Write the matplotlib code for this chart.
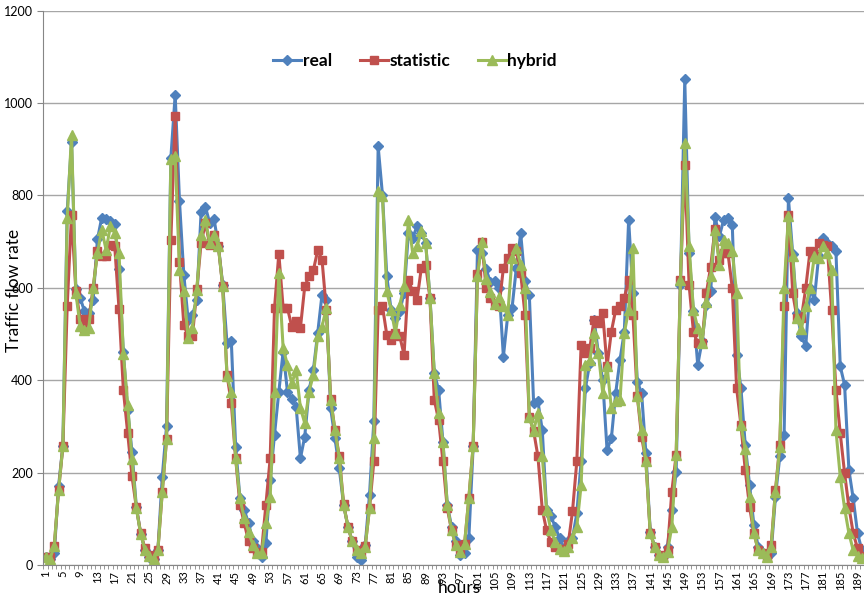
import numpy as np
import matplotlib.pyplot as plt

# hourly traffic flow (hours 1..190)
real = [17, 12, 25, 171, 258, 767, 915, 597, 578, 549, 545, 574, 705, 752, 748, 745, 738, 640, 460, 336, 245, 126, 68, 33,
        18, 12, 32, 190, 300, 881, 1018, 787, 628, 531, 541, 574, 763, 775, 740, 749, 691, 607, 480, 484, 256, 144, 119, 90,
        51, 36, 18, 47, 184, 282, 375, 462, 375, 360, 343, 231, 278, 379, 422, 502, 585, 574, 339, 274, 209, 130, 83, 51,
        18, 11, 43, 152, 311, 906, 801, 625, 552, 534, 549, 589, 718, 708, 733, 718, 697, 578, 415, 379, 267, 130, 83, 51,
        22, 25, 58, 257, 682, 675, 640, 612, 614, 600, 451, 540, 556, 643, 718, 614, 585, 350, 354, 292, 119, 105, 83, 58,
        36, 51, 58, 112, 224, 383, 437, 531, 458, 400, 249, 274, 372, 444, 505, 747, 588, 397, 372, 242, 72, 40, 22, 18,
        40, 119, 202, 606, 1051, 675, 549, 433, 484, 563, 592, 754, 711, 747, 751, 736, 455, 383, 260, 173, 87, 40, 25, 18,
        27, 148, 235, 282, 794, 672, 545, 495, 473, 599, 574, 668, 708, 697, 690, 679, 430, 390, 206, 144, 69, 32]

statistic = [18, 17, 41, 162, 258, 561, 758, 594, 532, 513, 532, 599, 679, 668, 668, 693, 690, 554, 379, 285, 192, 125, 69, 36,
             22, 14, 33, 157, 272, 704, 971, 655, 520, 495, 495, 597, 697, 740, 693, 715, 690, 603, 412, 350, 231, 130, 90, 51,
             36, 25, 29, 130, 231, 556, 674, 556, 556, 516, 527, 513, 603, 625, 638, 681, 661, 552, 359, 292, 235, 132, 83, 51,
             32, 25, 41, 123, 224, 552, 560, 498, 487, 502, 495, 455, 617, 592, 574, 643, 650, 578, 357, 314, 224, 123, 75, 43,
             29, 45, 145, 258, 630, 698, 600, 578, 568, 560, 643, 665, 686, 680, 632, 542, 320, 290, 235, 120, 75, 50, 40, 35,
             30, 45, 116, 224, 477, 458, 469, 531, 523, 545, 430, 505, 552, 561, 578, 617, 541, 366, 278, 224, 69, 40, 22, 18,
             32, 159, 238, 617, 866, 606, 505, 480, 480, 588, 646, 727, 661, 675, 675, 599, 383, 303, 206, 126, 69, 32, 25, 18,
             43, 162, 260, 560, 758, 588, 534, 534, 599, 679, 672, 697, 693, 690, 552, 379, 285, 199, 126, 69, 36, 20]

hybrid = [18, 13, 41, 162, 258, 751, 931, 588, 518, 509, 513, 599, 675, 726, 682, 733, 719, 675, 457, 347, 229, 123, 68, 33,
          20, 12, 32, 157, 272, 878, 885, 639, 592, 491, 513, 596, 715, 747, 697, 715, 690, 603, 408, 375, 231, 144, 101, 72,
          43, 25, 25, 90, 148, 375, 632, 469, 433, 393, 422, 340, 307, 375, 412, 495, 516, 556, 357, 292, 231, 130, 83, 51,
          32, 25, 40, 123, 274, 809, 798, 592, 552, 502, 563, 603, 747, 675, 690, 722, 697, 578, 415, 328, 267, 130, 75, 43,
          29, 45, 145, 258, 625, 698, 620, 590, 565, 580, 560, 540, 665, 686, 650, 600, 320, 290, 330, 235, 120, 75, 50, 35,
          30, 40, 58, 83, 173, 433, 444, 502, 458, 372, 431, 339, 354, 357, 502, 552, 686, 365, 292, 224, 69, 40, 22, 18,
          29, 83, 238, 617, 913, 690, 552, 513, 480, 570, 625, 726, 650, 704, 697, 679, 588, 303, 250, 148, 69, 32, 25, 18,
          40, 159, 256, 599, 755, 668, 534, 510, 560, 599, 668, 664, 691, 675, 639, 292, 191, 123, 69, 32, 20, 15]

hours = np.arange(1, len(real) + 1)
tick_hours = np.arange(1, 190, 4)

plt.rcParams['font.family'] = ['Lato', 'DejaVu Sans']

fig = plt.figure(figsize=(8.64, 5.98), dpi=100)
ax = fig.add_axes([0.0503, 0.0552, 0.9497, 0.9272])

ax.plot(hours, real, c='#4F81BD', lw=2.2, marker='D', ms=5, label='real')
ax.plot(hours, statistic, c='#C0504D', lw=2.2, marker='s', ms=5.5, label='statistic')
ax.plot(hours, hybrid, c='#9BBB59', lw=2.2, marker='^', ms=6.5, label='hybrid')

ax.set_xlim(0.5, 190.2)
ax.set_ylim(0, 1200)
ax.set_yticks(np.arange(0, 1201, 200))
ax.yaxis.grid(True, color='#a6a6a6', lw=1)
ax.set_axisbelow(True)

ax.set_xticks(tick_hours)
ax.set_xticklabels([str(h) for h in tick_hours], rotation=90, fontsize=8)
ax.set_xticks(np.arange(0.5, 191, 1), minor=True)
ax.tick_params(axis='x', which='major', length=0, pad=4)
ax.tick_params(axis='x', which='minor', length=3, color='#868686')
ax.tick_params(axis='y', length=4, color='#868686', labelsize=9)

for side in ['top', 'right']:
    ax.spines[side].set_visible(False)
for side in ['left', 'bottom']:
    ax.spines[side].set_color('#868686')

# the reference draws the axis titles over the tick labels
fig.text(0.016, 0.515, 'Traffic flow rate', fontsize=12.5, rotation=90, ha='center', va='center')
fig.text(0.532, 0.004, 'hours', fontsize=12.5, ha='center', va='bottom')

ax.legend(loc='center', bbox_to_anchor=(0.453, 0.909), ncol=3, frameon=False,
          prop={'weight': 'bold', 'size': 12.5}, handlelength=1.6, columnspacing=1.6, handletextpad=0.1)

fig.savefig('out.png', dpi=100)
